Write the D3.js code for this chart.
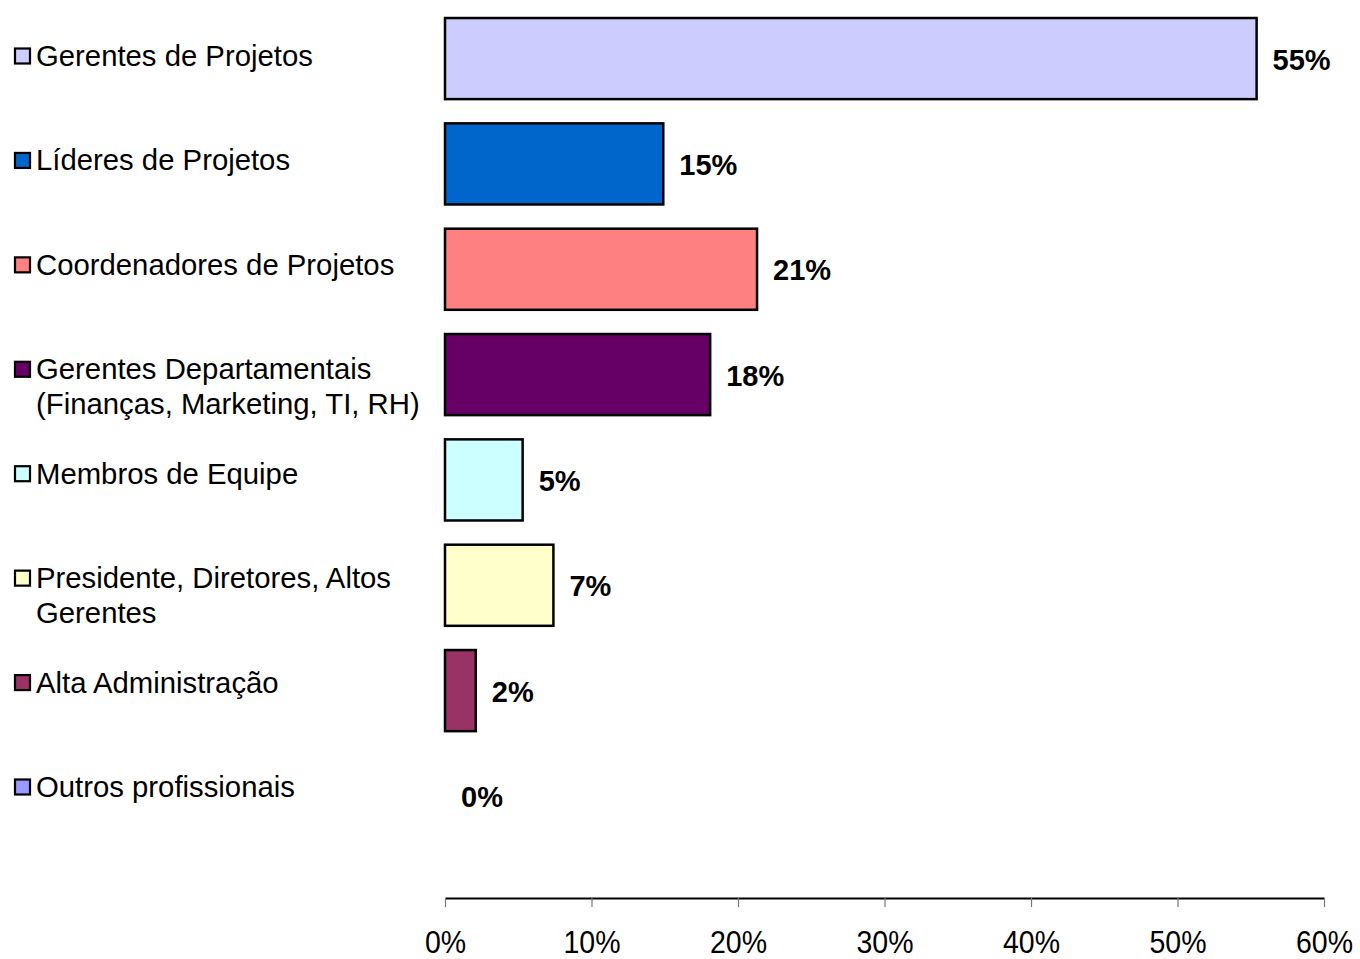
<!DOCTYPE html>
<html>
<head>
<meta charset="utf-8">
<script src="https://cdn.jsdelivr.net/npm/d3@7/dist/d3.min.js"></script>
<style>
  html, body { margin: 0; padding: 0; background: #fff; }
  svg { display: block; font-family: "Liberation Sans", Arial, Helvetica, sans-serif; }
</style>
</head>
<body>
<svg id="chart" width="1360" height="959"></svg>
<script>
// Categories (legend text; "\n" marks a line break)
const categories = [
  "Gerentes de Projetos",
  "Líderes de Projetos",
  "Coordenadores de Projetos",
  "Gerentes Departamentais\n(Finanças, Marketing, TI, RH)",
  "Membros de Equipe",
  "Presidente, Diretores, Altos\nGerentes",
  "Alta Administração",
  "Outros profissionais"
];
// Share of respondents per category
const values = [0.554, 0.149, 0.213, 0.181, 0.053, 0.074, 0.021, 0.0];
// Fill colours per category
const colors = ["#CCCCFF", "#0066CC", "#FF8080", "#660066", "#CCFFFF", "#FFFFCC", "#993366", "#9999FF"];
// Axis ticks
const tickValues = [0, 0.1, 0.2, 0.3, 0.4, 0.5, 0.6];

const data = categories.map((c, i) => ({ cat: c, value: values[i], color: colors[i] }));
const pct = d3.format(".0%");

const svg = d3.select("#chart");

const x = d3.scaleLinear().domain([0, 0.6]).range([445, 1324]);
const y = d3.scaleBand().domain(categories).range([5.9, 848.6]).paddingInner(0.23).paddingOuter(0.115);
const legendY = d3.scalePoint().domain(categories).range([56, 787]);
const axisY = 898;

// Bars
svg.append("g").selectAll("rect")
  .data(data.filter(d => d.value > 0))
  .join("rect")
  .attr("x", x(0))
  .attr("y", d => y(d.cat))
  .attr("width", d => x(d.value) - x(0))
  .attr("height", y.bandwidth())
  .attr("fill", d => d.color)
  .attr("stroke", "#000")
  .attr("stroke-width", 2.5);

// Value labels
svg.append("g").selectAll("text")
  .data(data)
  .join("text")
  .attr("x", d => x(d.value) + 16)
  .attr("y", d => y(d.cat) + y.bandwidth() / 2 + 11)
  .attr("font-size", 29)
  .attr("font-weight", "bold")
  .attr("fill", "#000")
  .text(d => pct(d.value));

// Axis
const axis = d3.axisBottom(x)
  .tickValues(tickValues)
  .tickSize(9)
  .tickSizeOuter(0)
  .tickFormat(pct);

const gAxis = svg.append("g")
  .attr("transform", `translate(0,${axisY})`)
  .call(axis);
gAxis.select(".domain").attr("stroke", "#000").attr("stroke-width", 2);
gAxis.selectAll(".tick line").attr("stroke", "#777").attr("stroke-width", 1.2);
gAxis.selectAll(".tick text")
  .attr("font-size", 31)
  .attr("font-family", "'Liberation Sans', Arial, sans-serif")
  .attr("fill", "#000")
  .attr("y", 0)
  .attr("dy", 0)
  .attr("transform", "translate(0,55) scale(0.92,1)");

// Legend
const legend = svg.append("g").selectAll("g")
  .data(data)
  .join("g")
  .attr("transform", d => `translate(0,${legendY(d.cat)})`);

legend.append("rect")
  .attr("x", 15)
  .attr("y", -7.5)
  .attr("width", 15)
  .attr("height", 15)
  .attr("fill", d => d.color)
  .attr("stroke", "#000")
  .attr("stroke-width", 2.2);

legend.append("text")
  .attr("x", 36)
  .attr("y", 10)
  .attr("font-size", 29.3)
  .attr("fill", "#000")
  .selectAll("tspan")
  .data(d => d.cat.split("\n"))
  .join("tspan")
  .attr("x", 36)
  .attr("dy", (d, i) => i === 0 ? 0 : 35)
  .text(d => d);
</script>
</body>
</html>
